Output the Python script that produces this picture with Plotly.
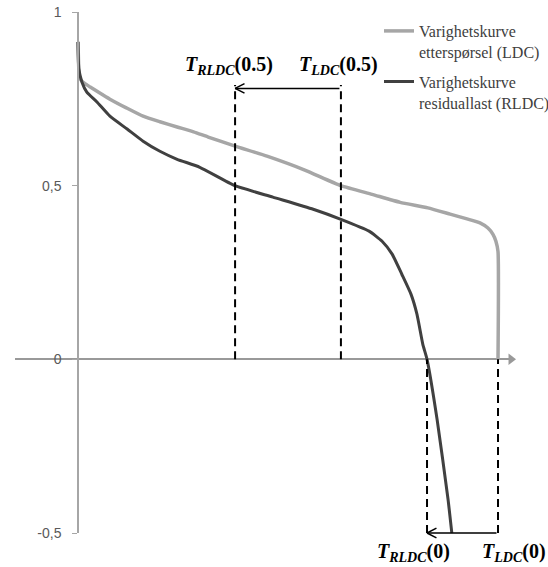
import plotly.graph_objects as go

# Normalised duration (share of the year) and load (per unit of peak)
ldc_t = [0.0, 0.002, 0.005, 0.015, 0.029, 0.05, 0.076, 0.115, 0.155, 0.195, 0.236, 0.275,
         0.310, 0.374, 0.450, 0.540, 0.626, 0.700, 0.767, 0.833, 0.886, 0.924, 0.957,
         0.976, 0.988, 0.995, 1.0, 1.0]
ldc_y = [0.914, 0.836, 0.807, 0.795, 0.784, 0.768, 0.749, 0.724, 0.700, 0.684, 0.669, 0.655,
         0.640, 0.614, 0.585, 0.545, 0.500, 0.475, 0.452, 0.436, 0.418, 0.405, 0.393,
         0.378, 0.360, 0.340, 0.310, 0.0]

rldc_t = [0.0, 0.002, 0.0095, 0.021, 0.045, 0.076, 0.117, 0.155, 0.195, 0.236, 0.290,
          0.374, 0.464, 0.560, 0.626, 0.693, 0.724, 0.748, 0.771, 0.793, 0.807, 0.821,
          0.831, 0.855, 0.881, 0.890]
rldc_y = [0.914, 0.836, 0.798, 0.769, 0.741, 0.700, 0.663, 0.628, 0.599, 0.576, 0.553,
          0.500, 0.467, 0.432, 0.403, 0.369, 0.340, 0.303, 0.245, 0.187, 0.130, 0.043,
          0.0, -0.173, -0.403, -0.500]

# Durations where each curve reaches the marked load levels
t_rldc_05 = 0.374
t_ldc_05 = 0.626
t_rldc_0 = 0.831
t_ldc_0 = 1.0

y_ticks = [-0.5, 0, 0.5, 1]
y_tick_text = ["-0,5", "0", "0,5", "1"]

legend_names = ["Varighetskurve<br>etterspørsel (LDC)", "Varighetskurve<br>residuallast (RLDC)"]

x_min, x_max = -0.15, 1.0357
y_min, y_max = -0.5, 1.0
arrow_level = 0.78

fig = go.Figure()

fig.add_trace(go.Scatter(x=ldc_t, y=ldc_y, mode="lines", name=legend_names[0],
                         legendgroup="ldc",
                         line=dict(color="#a6a6a6", width=3.5, shape="spline", smoothing=0.5)))
fig.add_trace(go.Scatter(x=rldc_t, y=rldc_y, mode="lines", name=legend_names[1],
                         legendgroup="rldc",
                         line=dict(color="#404040", width=3, shape="spline", smoothing=0.5)))

dash = dict(color="black", width=2, dash="8px,5px")
for t, y0, y1 in [(t_rldc_05, 0, arrow_level + 0.01), (t_ldc_05, 0, arrow_level + 0.01),
                  (t_rldc_0, y_min, 0), (t_ldc_0, y_min, 0)]:
    fig.add_trace(go.Scatter(x=[t, t], y=[y0, y1], mode="lines", line=dash,
                             showlegend=False, hoverinfo="skip"))

# Horizontal shift arrows with open heads (annotation arrows are not clipped)
head_dx, head_dy = 0.026, 0.016
for t_from, t_to, yy in [(t_ldc_05, t_rldc_05, arrow_level), (t_ldc_0, t_rldc_0, y_min)]:
    for ax, ay in [(t_from, yy), (t_to + head_dx, yy + head_dy), (t_to + head_dx, yy - head_dy)]:
        fig.add_annotation(x=t_to, y=yy, ax=ax, ay=ay, axref="x", ayref="y",
                           xref="x", yref="y", text="", showarrow=True, arrowhead=0,
                           arrowwidth=1.5, arrowcolor="black", standoff=0, startstandoff=0)

# Arrowhead on the duration axis
fig.add_trace(go.Scatter(x=[1.031], y=[0], mode="markers",
                         marker=dict(symbol="triangle-right", size=10, color="#999999"),
                         showlegend=False, hoverinfo="skip", cliponaxis=False))

lbl_font = dict(family="Liberation Serif", size=20, color="black")
labels = [
    (t_rldc_05, arrow_level, -6, 23, "<b><i>T</i><sub><i>RLDC</i></sub>(0.5)</b>"),
    (t_ldc_05, arrow_level, -2, 23, "<b><i>T</i><sub><i>LDC</i></sub>(0.5)</b>"),
    (t_rldc_0, y_min, -14, -19, "<b><i>T</i><sub><i>RLDC</i></sub>(0)</b>"),
    (t_ldc_0, y_min, 16, -19, "<b><i>T</i><sub><i>LDC</i></sub>(0)</b>"),
]
for x, y, xs, ys, txt in labels:
    fig.add_annotation(x=x, y=y, xshift=xs, yshift=ys, text=txt, showarrow=False,
                       font=lbl_font, xanchor="center", yanchor="middle")

fig.update_layout(
    width=548, height=567,
    margin=dict(l=15, r=35, t=12, b=34, autoexpand=False),
    paper_bgcolor="white", plot_bgcolor="white",
    showlegend=True,
    legend=dict(x=(379 - 15) / 498, y=1 - 2 / 521,
                xanchor="left", yanchor="top",
                valign="top", bgcolor="rgba(0,0,0,0)",
                traceorder="grouped", tracegroupgap=6,
                font=dict(family="Liberation Serif", size=16, color="#404040")),
    xaxis=dict(range=[x_min, x_max], showgrid=False, zeroline=False, showline=False,
               showticklabels=False, ticks=""),
    yaxis=dict(range=[y_min, y_max], anchor="free",
               position=(0 - x_min) / (x_max - x_min),
               showgrid=False, showline=True, linecolor="#a6a6a6", linewidth=1.5,
               ticks="outside", ticklen=5, tickcolor="#a6a6a6", tickwidth=1,
               tickvals=y_ticks, ticktext=y_tick_text, ticklabelstandoff=8,
               tickfont=dict(family="Liberation Sans", size=14, color="#595959"),
               zeroline=True, zerolinecolor="#999999", zerolinewidth=2),
)

fig.write_html("out.html")
